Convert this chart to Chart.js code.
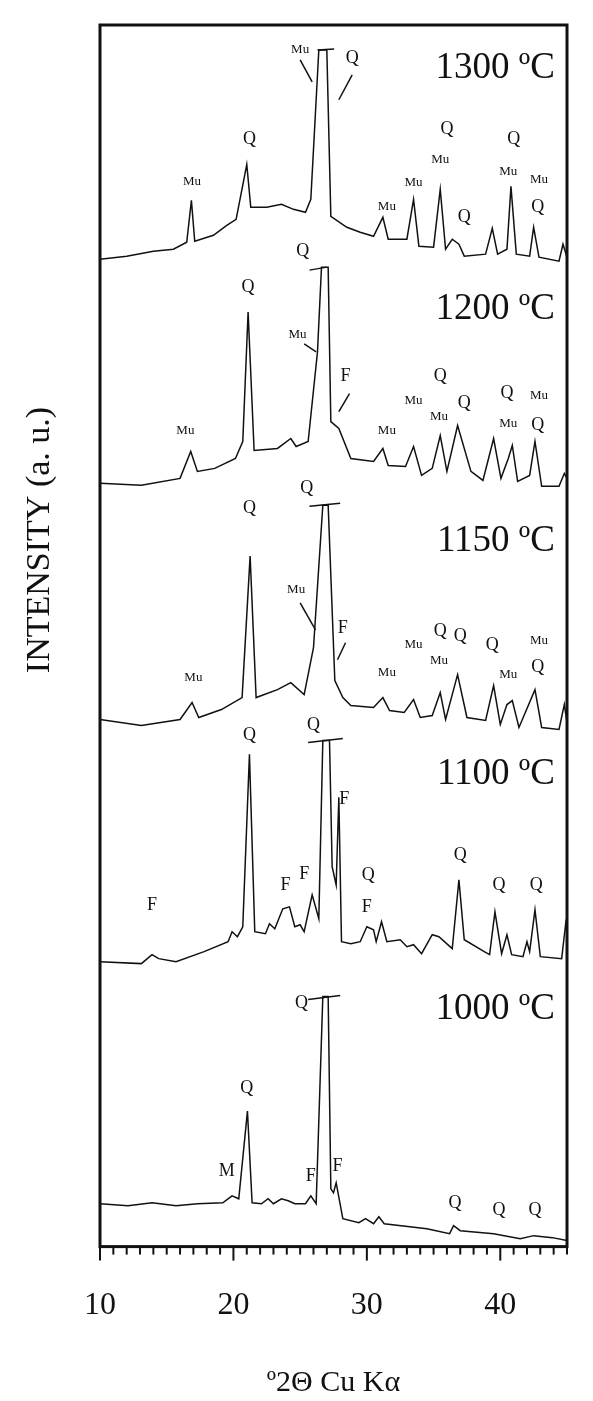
<!DOCTYPE html>
<html><head><meta charset="utf-8">
<script src="https://cdn.jsdelivr.net/npm/chart.js@4"></script>
<style>html,body{margin:0;padding:0;background:#fff}#wrap{width:593px;height:1401px}</style>
</head><body><div id="wrap"><canvas id="c"></canvas></div>
<script>
// 2theta / intensity (offset, a.u.) pairs per temperature
const t1300 = [[10,991],[12,994],[14,999],[15.5,1001],[16.5,1008],[16.85,1050],[17.1,1009],[18.5,1015],[19.5,1025],[20.2,1031],[21.0,1086],[21.3,1043],[22.5,1043],[23.6,1046],[24.5,1041],[25.4,1038],[25.8,1051],[26.4,1201],[27.0,1201],[27.3,1034],[28.5,1023],[29.5,1018],[30.5,1014],[31.2,1033],[31.6,1011],[33.0,1011],[33.5,1051],[33.9,1004],[35.0,1003],[35.5,1061],[35.9,1001],[36.4,1011],[36.9,1006],[37.3,994],[38.9,996],[39.4,1022],[39.8,996],[40.5,1001],[40.8,1064],[41.2,996],[42.2,994],[42.5,1023],[42.9,993],[44.4,989],[44.7,1006],[45,993]];
const t1200 = [[10,766],[13.1,764],[16.0,771],[16.8,798],[17.3,778],[18.6,781],[20.15,791],[20.7,808],[21.1,938],[21.55,799],[23.3,801],[24.3,811],[24.7,803],[25.6,808],[26.3,898],[26.6,983],[27.1,983],[27.3,828],[27.9,821],[28.8,791],[30.5,788],[31.2,801],[31.6,784],[32.9,783],[33.5,803],[34.1,774],[34.9,781],[35.5,814],[36.0,778],[36.8,824],[37.8,778],[38.7,769],[39.5,811],[40.05,771],[40.6,791],[40.9,804],[41.3,768],[42.2,774],[42.6,808],[43.1,763],[44.4,763],[44.8,776],[45,771]];
const t1150 = [[10,529],[13.1,523],[16.0,529],[16.9,546],[17.4,531],[19.1,539],[20.65,551],[21.25,693],[21.7,551],[23.3,559],[24.3,566],[25.3,554],[26.0,601],[26.7,744],[27.1,744],[27.6,568],[28.2,551],[28.8,543],[30.5,541],[31.2,551],[31.7,538],[32.8,536],[33.5,549],[34.0,531],[34.9,533],[35.5,556],[35.9,529],[36.8,574],[37.5,531],[38.9,528],[39.5,563],[40.0,524],[40.5,544],[40.9,548],[41.4,521],[42.6,559],[43.1,521],[44.4,519],[44.8,544],[45,526]];
const t1100 = [[10,286],[13.1,284],[13.9,293],[14.4,289],[15.7,286],[17.8,296],[19.6,306],[19.9,316],[20.3,311],[20.7,321],[21.2,494],[21.6,316],[22.4,314],[22.7,324],[23.1,319],[23.7,339],[24.2,341],[24.6,321],[25.0,323],[25.3,316],[25.9,353],[26.4,329],[26.7,508],[27.2,508],[27.4,381],[27.7,363],[27.9,451],[28.1,306],[28.8,304],[29.5,306],[30.0,321],[30.5,318],[30.7,306],[31.1,326],[31.5,306],[32.5,308],[33.0,301],[33.5,303],[34.1,294],[34.9,313],[35.4,311],[36.4,299],[36.9,368],[37.3,308],[38.8,296],[39.2,293],[39.6,336],[40.1,294],[40.5,313],[40.85,293],[41.7,291],[42.0,306],[42.2,296],[42.6,338],[43.0,291],[44.6,289],[44.9,324],[45,316]];
const t1000 = [[10,43],[12.1,41],[13.9,44],[15.7,41],[17.3,43],[19.2,44],[19.9,51],[20.4,48],[21.05,136],[21.4,44],[22.1,43],[22.6,48],[23.0,43],[23.6,48],[24.1,46],[24.6,43],[25.4,43],[25.8,51],[26.2,43],[26.7,251],[27.1,251],[27.3,58],[27.5,54],[27.7,64],[28.2,28],[29.4,24],[29.9,28],[30.5,23],[30.9,30],[31.3,23],[34.5,18],[36.2,13],[36.5,21],[37.0,16],[39.5,13],[41.5,8],[42.5,11],[43.9,9],[45,6]];
const xTicks = [10,20,30,40];
// phase labels: [text, 2theta, intensity, size]
const labels = [
 ["Mu",16.9,1069,13],["Q",21.2,1111,18],["Mu",25.0,1201,13],["Q",28.9,1193,18],["Mu",31.5,1044,13],["Mu",33.5,1068,13],["Mu",35.5,1091,13],["Q",36.0,1121,18],["Q",37.3,1033,18],["Q",41.0,1111,18],["Mu",40.6,1079,13],["Mu",42.9,1071,13],["Q",42.8,1043,18],
 ["Q",21.1,963,18],["Q",25.2,999,18],["Mu",24.8,915,13],["F",28.4,873,18],["Mu",16.4,819,13],["Mu",31.5,819,13],["Mu",33.5,849,13],["Q",35.5,873,18],["Mu",35.4,833,13],["Q",37.3,846,18],["Q",40.5,856,18],["Mu",42.9,854,13],["Mu",40.6,826,13],["Q",42.8,824,18],
 ["Q",21.2,741,18],["Q",25.5,761,18],["Mu",24.7,659,13],["F",28.2,621,18],["Mu",17.0,571,13],["Mu",31.5,576,13],["Mu",33.5,604,13],["Q",35.5,618,18],["Q",37.0,613,18],["Mu",35.4,588,13],["Q",39.4,603,18],["Mu",42.9,608,13],["Mu",40.6,574,13],["Q",42.8,581,18],
 ["Q",21.2,513,18],["Q",26.0,523,18],["F",28.3,449,18],["Q",30.1,373,18],["F",30.0,341,18],["F",23.9,363,18],["F",25.3,374,18],["F",13.9,343,18],["Q",37.0,393,18],["Q",39.9,363,18],["Q",42.7,363,18],
 ["Q",21.0,159,18],["Q",25.1,244,18],["M",19.5,76,18],["F",25.8,71,18],["F",27.8,81,18],["Q",36.6,43,18],["Q",39.9,36,18],["Q",42.6,36,18]
];
// temperature labels: [text, 2theta(right edge), intensity]
const temps = [["1300 ºC",44.1,1183],["1200 ºC",44.1,941],["1150 ºC",44.1,708],["1100 ºC",44.1,474],["1000 ºC",44.1,238]];
// leader lines and truncation bars: [x1,y1,x2,y2]
const marks = [
 [25.0,1191,25.9,1169],[28.9,1176,27.9,1151],[26.3,1201,27.55,1202],
 [25.7,980,27.0,983],[25.3,906,26.2,898],[28.7,856,27.9,838],
 [25.7,743,28.0,746],[25.0,646,26.15,619],[28.4,606,27.8,589],
 [25.6,506,28.2,510],
 [25.6,248,28.0,252]
];
const series = [t1300,t1200,t1150,t1100,t1000];
const deco = {
 id:'deco',
 afterDatasetsDraw(ch){
  const c=ch.ctx,x=ch.scales.x,y=ch.scales.y,a=ch.chartArea;
  c.save();
  c.strokeStyle='#111';c.lineWidth=1.5;
  marks.forEach(m=>{c.beginPath();c.moveTo(x.getPixelForValue(m[0]),y.getPixelForValue(m[1]));c.lineTo(x.getPixelForValue(m[2]),y.getPixelForValue(m[3]));c.stroke();});
  c.fillStyle='#111';c.textAlign='center';c.textBaseline='middle';
  labels.forEach(l=>{c.font=l[3]+'px "Liberation Serif"';c.fillText(l[0],x.getPixelForValue(l[1]),y.getPixelForValue(l[2]));});
  c.font='37px "Liberation Serif"';c.textAlign='right';
  temps.forEach(t=>c.fillText(t[0],x.getPixelForValue(t[1]),y.getPixelForValue(t[2])));
  c.lineWidth=3;c.strokeRect(a.left,a.top,a.right-a.left,a.bottom-a.top);
  c.lineWidth=2;
  for(let v=10;v<=45;v++){const px=x.getPixelForValue(v);c.beginPath();c.moveTo(px,a.bottom);c.lineTo(px,a.bottom+(v%10===0?14:8));c.stroke();}
  c.translate(40,540);c.rotate(-Math.PI/2);c.textAlign='center';c.font='34px "Liberation Serif"';
  c.fillText('INTENSITY (a. u.)',0,0);
  c.restore();
 }
};
new Chart(document.getElementById('c'),{
 type:'line',
 data:{datasets:series.map(s=>({data:s.map(p=>({x:p[0],y:p[1]})),borderColor:'#111',borderWidth:1.5,pointRadius:0,tension:0,fill:false}))},
 options:{responsive:true,maintainAspectRatio:false,animation:false,
  layout:{padding:{left:100,right:26,top:25,bottom:0}},
  plugins:{legend:{display:false},tooltip:{enabled:false}},
  scales:{
   x:{type:'linear',min:10,max:45,
    grid:{display:false,drawTicks:false},border:{display:false},
    afterBuildTicks:s=>{s.ticks=xTicks.map(v=>({value:v}));},
    ticks:{padding:40,color:'#111',font:{family:'Liberation Serif',size:32},maxRotation:0},
    title:{display:true,text:'º2Θ Cu Kα',color:'#111',font:{family:'Liberation Serif',size:30},padding:{top:0,bottom:0}}},
   y:{display:false,min:0,max:1226}
  }}
 ,plugins:[deco]});
</script></body></html>
